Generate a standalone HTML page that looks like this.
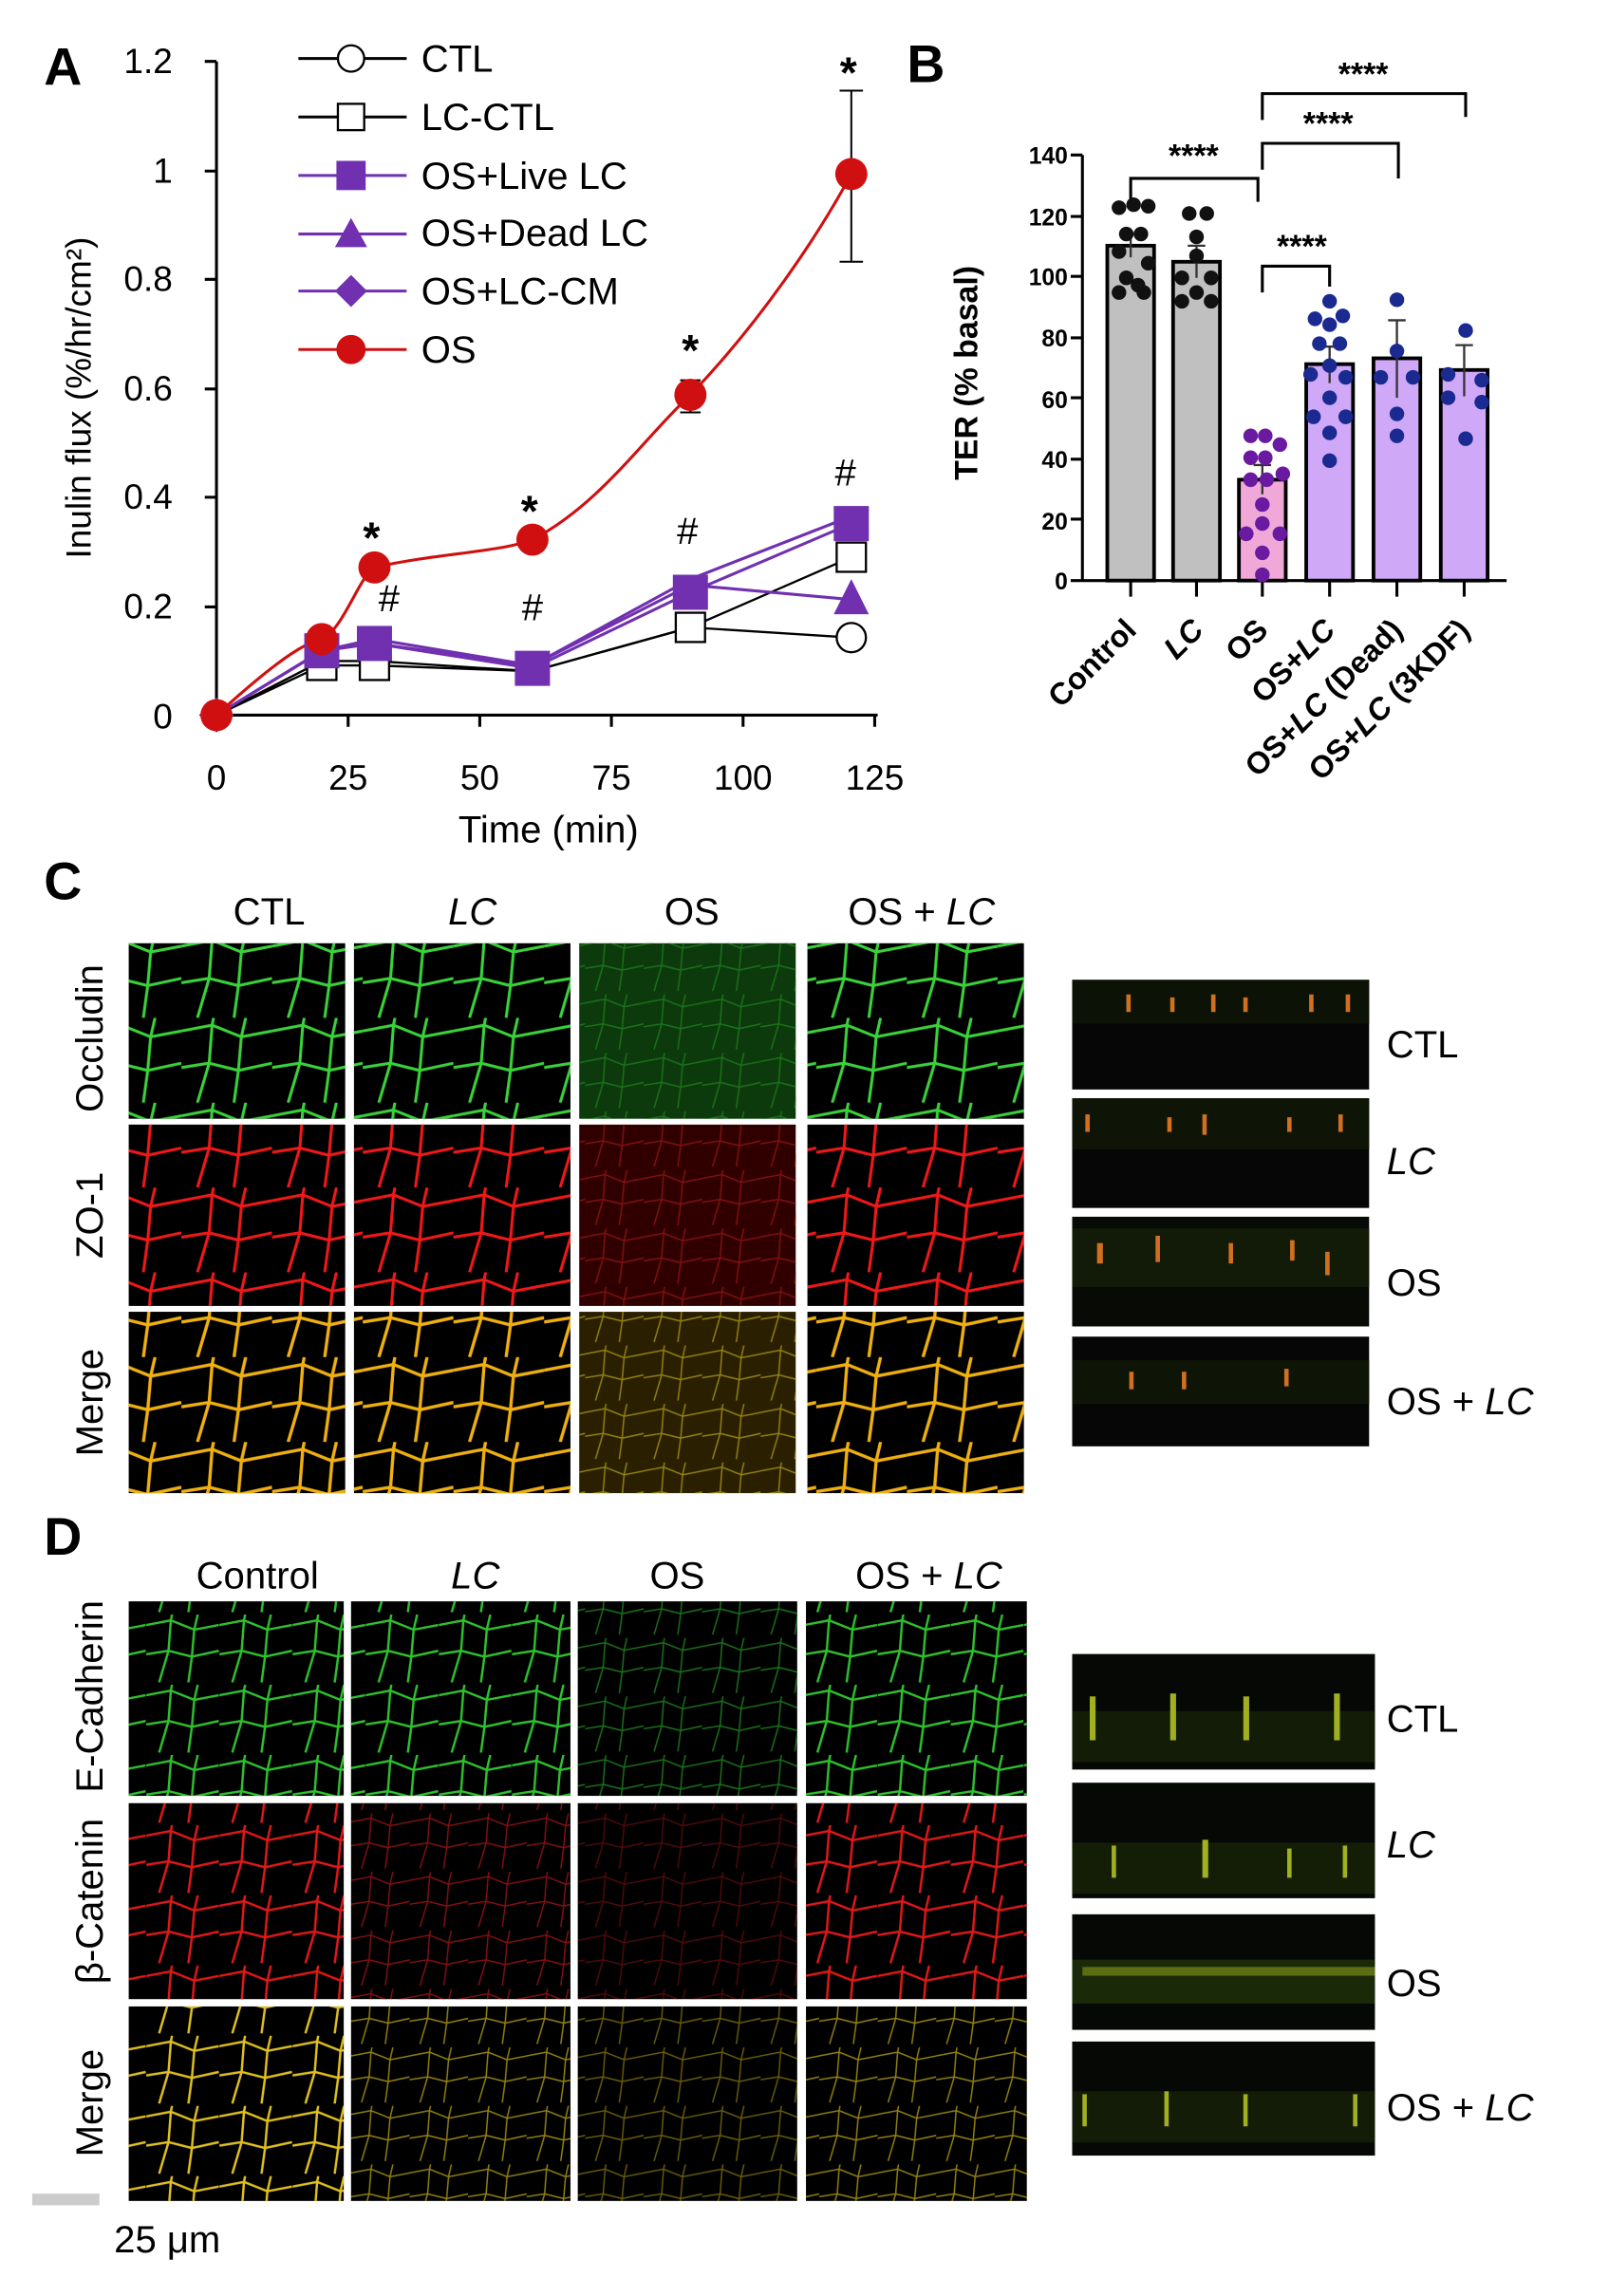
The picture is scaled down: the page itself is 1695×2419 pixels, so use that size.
<!DOCTYPE html>
<html><head><meta charset="utf-8"><style>html,body{margin:0;padding:0;background:#fff}svg{display:block}</style></head><body>
<svg width="1695" height="2419" viewBox="0 0 1100 1570" preserveAspectRatio="none" xmlns="http://www.w3.org/2000/svg" font-family="Liberation Sans, sans-serif">
<defs>
<path id="net" d="M0 9 L21 5 L41 13 L62 9 M21 5 L19 31 L0 34 M19 31 L39 36 L41 13 M39 36 L62 31 M39 36 L36 58 M19 31 L11 58 M21 5 L22 0 M41 13 L44 0"/>
<pattern id="pG" width="62" height="58" patternUnits="userSpaceOnUse"><use href="#net" fill="none" stroke="#3ad23a" stroke-width="2"/></pattern>
<pattern id="pR" width="62" height="58" patternUnits="userSpaceOnUse"><use href="#net" fill="none" stroke="#f01818" stroke-width="2"/></pattern>
<pattern id="pY" width="62" height="58" patternUnits="userSpaceOnUse"><use href="#net" fill="none" stroke="#f0b010" stroke-width="2.2"/></pattern>
<pattern id="pG2" width="50" height="48" patternUnits="userSpaceOnUse"><use href="#net" transform="scale(0.8)" fill="none" stroke="#2ec02e" stroke-width="2"/></pattern>
<pattern id="pR2" width="50" height="48" patternUnits="userSpaceOnUse"><use href="#net" transform="scale(0.8)" fill="none" stroke="#e01818" stroke-width="2"/></pattern>
<pattern id="pY2" width="50" height="48" patternUnits="userSpaceOnUse"><use href="#net" transform="scale(0.8)" fill="none" stroke="#e0c020" stroke-width="2"/></pattern>
<pattern id="pGd" width="40" height="40" patternUnits="userSpaceOnUse"><use href="#net" transform="scale(0.65)" fill="none" stroke="#1a701a" stroke-width="1.5"/></pattern>
<pattern id="pRd" width="40" height="40" patternUnits="userSpaceOnUse"><use href="#net" transform="scale(0.65)" fill="none" stroke="#801010" stroke-width="1.5"/></pattern>
<pattern id="pYd" width="40" height="40" patternUnits="userSpaceOnUse"><use href="#net" transform="scale(0.65)" fill="none" stroke="#908010" stroke-width="1.5"/></pattern>
</defs>

<!-- Panel A -->
<text x="30" y="58" font-size="36" font-weight="bold">A</text>
<g font-size="24" text-anchor="end">
<text x="118" y="50">1.2</text><text x="118" y="125">1</text><text x="118" y="199">0.8</text><text x="118" y="274">0.6</text><text x="118" y="348">0.4</text><text x="118" y="423">0.2</text><text x="118" y="498">0</text>
</g>
<g stroke="#000" stroke-width="2" fill="none">
<path d="M148 42 V489 H600"/>
<path d="M140 42H148M140 117H148M140 191H148M140 266H148M140 340H148M140 415H148M140 489H148"/>
<path d="M148 489V497M238 489V497M328 489V497M418 489V497M508 489V497M598 489V497"/>
</g>
<g font-size="24" text-anchor="middle">
<text x="148" y="540">0</text><text x="238" y="540">25</text><text x="328" y="540">50</text><text x="418" y="540">75</text><text x="508" y="540">100</text><text x="598" y="540">125</text>
<text x="375" y="576" font-size="26">Time (min)</text>
</g>
<text transform="translate(62 272) rotate(-90)" font-size="24" text-anchor="middle">Inulin flux (%/hr/cm²)</text>
<polyline points="148,489 220,452 256,452 364,459 472,429 582,436" fill="none" stroke="#000" stroke-width="1.5"/>
<polyline points="148,489 220,455 256,455 364,459 472,429 582,381" fill="none" stroke="#000" stroke-width="1.5"/>
<polyline points="148,489 220,445 256,440 364,457 472,405 582,358" fill="none" stroke="#7030b0" stroke-width="2"/>
<polyline points="148,489 220,445 256,437 364,455 472,400 582,410" fill="none" stroke="#7030b0" stroke-width="2"/>
<polyline points="148,489 220,445 256,440 364,455 472,396 582,353" fill="none" stroke="#7030b0" stroke-width="2"/>
<path d="M148 489 C180 460 205 440 220 437 C235 430 245 395 256 388 C300 378 340 378 364 369 C410 345 440 300 472 270 C520 220 560 160 582 119" fill="none" stroke="#d01010" stroke-width="2"/>
<path d="M582 62V179M574 62H590M574 179H590M472 260V282M465 260H479M465 282H479" stroke="#000" stroke-width="1.3"/>
<g fill="#fff" stroke="#000" stroke-width="1.5">
<circle cx="582" cy="436" r="10"/><rect x="572" y="371" width="20" height="20"/><rect x="462" y="419" width="20" height="20"/>
<rect x="210" y="445" width="20" height="20"/><rect x="246" y="445" width="20" height="20"/>
</g>
<g fill="#7030b0">
<rect x="244" y="428" width="24" height="24"/><rect x="352" y="445" width="24" height="24"/><rect x="460" y="393" width="24" height="24"/><rect x="570" y="346" width="24" height="24"/>
<path d="M582 396 L594 420 L570 420Z"/><rect x="208" y="433" width="24" height="24"/><path d="M148 477 L160 489 L148 501 L136 489Z"/>
</g>
<g fill="#d01010"><circle cx="148" cy="489" r="11"/><circle cx="220" cy="437" r="11"/><circle cx="256" cy="388" r="11"/><circle cx="364" cy="369" r="11"/><circle cx="472" cy="270" r="11"/><circle cx="582" cy="119" r="11"/></g>
<g font-size="30" font-weight="bold" text-anchor="middle">
<text x="580" y="60">*</text><text x="472" y="250">*</text><text x="362" y="360">*</text><text x="254" y="378">*</text>
<text x="578" y="332" font-size="26" font-weight="normal">#</text><text x="470" y="372" font-size="26" font-weight="normal">#</text><text x="364" y="424" font-size="26" font-weight="normal">#</text><text x="266" y="418" font-size="26" font-weight="normal">#</text>
</g>
<g stroke-width="2" fill="none">
<path d="M204 40H278M204 80H278" stroke="#000"/>
<path d="M204 120H278M204 160H278M204 199H278" stroke="#7030b0"/>
<path d="M204 239H278" stroke="#d01010"/>
</g>
<circle cx="240" cy="40" r="9" fill="#fff" stroke="#000" stroke-width="1.5"/>
<rect x="231" y="71" width="18" height="18" fill="#fff" stroke="#000" stroke-width="1.5"/>
<rect x="230" y="110" width="20" height="20" fill="#7030b0"/>
<path d="M240 149 L251 169 L229 169Z" fill="#7030b0"/>
<path d="M240 188 L251 199 L240 210 L229 199Z" fill="#7030b0"/>
<circle cx="240" cy="239" r="10" fill="#d01010"/>
<g font-size="26"><text x="288" y="49">CTL</text><text x="288" y="89">LC-CTL</text><text x="288" y="129">OS+Live LC</text><text x="288" y="168">OS+Dead LC</text><text x="288" y="208">OS+LC-CM</text><text x="288" y="248">OS</text></g>

<!-- Panel B -->
<text x="620" y="56" font-size="36" font-weight="bold">B</text>
<g font-size="16" font-weight="bold" text-anchor="end">
<text x="730" y="112">140</text><text x="730" y="154">120</text><text x="730" y="195">100</text><text x="730" y="237">80</text><text x="730" y="279">60</text><text x="730" y="320">40</text><text x="730" y="362">20</text><text x="730" y="403">0</text>
</g>
<text transform="translate(668 255) rotate(-90)" font-size="22" font-weight="bold" text-anchor="middle">TER (% basal)</text>
<g stroke="#000" stroke-width="2.5">
<rect x="757" y="168" width="32" height="229" fill="#c0c0c0"/>
<rect x="802" y="179" width="32" height="218" fill="#c0c0c0"/>
<rect x="847" y="328" width="32" height="69" fill="#f0a8d8"/>
<rect x="893" y="249" width="32" height="148" fill="#d0a8f8"/>
<rect x="939" y="245" width="32" height="152" fill="#d0a8f8"/>
<rect x="985" y="253" width="32" height="144" fill="#d0a8f8"/>
</g>
<g stroke="#333" stroke-width="1.5">
<path d="M773 160V176M767 160H779M818 168V190M812 168H824M863 318V338M857 318H869M909 237V262M903 237H915M955 219V272M949 219H961M1001 236V271M995 236H1007"/>
</g>
<g stroke="#000" stroke-width="2" fill="none">
<path d="M740 106V397H1030M732 106H740M732 148H740M732 189H740M732 231H740M732 272H740M732 314H740M732 355H740M732 397H740"/>
<path d="M773 397V408M818 397V408M863 397V408M909 397V408M955 397V408M1001 397V408"/>
<path d="M773 140V122H860V138M863 82V64H1002V80M863 116V98H956V122M863 200V182H909V196"/>
</g>
<g font-size="22" font-weight="bold" text-anchor="middle"><text x="816" y="114">****</text><text x="932" y="58">****</text><text x="908" y="92">****</text><text x="890" y="176">****</text></g>
<g fill="#111">
<circle cx="765" cy="142" r="5"/><circle cx="775" cy="140" r="5"/><circle cx="785" cy="141" r="5"/><circle cx="770" cy="160" r="5"/><circle cx="780" cy="160" r="5"/><circle cx="765" cy="172" r="5"/><circle cx="785" cy="180" r="5"/><circle cx="770" cy="190" r="5"/><circle cx="778" cy="195" r="5"/><circle cx="765" cy="200" r="5"/><circle cx="782" cy="200" r="5"/>
<circle cx="813" cy="146" r="5"/><circle cx="825" cy="146" r="5"/><circle cx="818" cy="162" r="5"/><circle cx="818" cy="175" r="5"/><circle cx="808" cy="190" r="5"/><circle cx="828" cy="190" r="5"/><circle cx="818" cy="200" r="5"/><circle cx="808" cy="206" r="5"/><circle cx="828" cy="206" r="5"/>
</g>
<g fill="#6a1aa0"><circle cx="855" cy="298" r="5"/><circle cx="865" cy="298" r="5"/><circle cx="875" cy="304" r="5"/><circle cx="855" cy="313" r="5"/><circle cx="865" cy="313" r="5"/><circle cx="855" cy="328" r="5"/><circle cx="866" cy="328" r="5"/><circle cx="877" cy="324" r="5"/><circle cx="863" cy="345" r="5"/><circle cx="863" cy="358" r="5"/><circle cx="852" cy="365" r="5"/><circle cx="875" cy="365" r="5"/><circle cx="863" cy="378" r="5"/><circle cx="863" cy="393" r="5"/></g>
<g fill="#1a2a90"><circle cx="909" cy="206" r="5"/><circle cx="899" cy="218" r="5"/><circle cx="918" cy="216" r="5"/><circle cx="909" cy="222" r="5"/><circle cx="902" cy="235" r="5"/><circle cx="916" cy="235" r="5"/><circle cx="909" cy="250" r="5"/><circle cx="896" cy="256" r="5"/><circle cx="920" cy="258" r="5"/><circle cx="909" cy="272" r="5"/><circle cx="898" cy="285" r="5"/><circle cx="920" cy="285" r="5"/><circle cx="909" cy="296" r="5"/><circle cx="909" cy="315" r="5"/>
<circle cx="955" cy="205" r="5"/><circle cx="955" cy="240" r="5"/><circle cx="944" cy="258" r="5"/><circle cx="966" cy="258" r="5"/><circle cx="955" cy="283" r="5"/><circle cx="955" cy="298" r="5"/>
<circle cx="1002" cy="226" r="5"/><circle cx="990" cy="256" r="5"/><circle cx="1013" cy="260" r="5"/><circle cx="990" cy="272" r="5"/><circle cx="1013" cy="275" r="5"/><circle cx="1002" cy="300" r="5"/></g>
<g font-size="21" font-weight="bold" text-anchor="end">
<text transform="translate(778 432) rotate(-45)">Control</text>
<text transform="translate(824 432) rotate(-45)" font-style="italic">LC</text>
<text transform="translate(868 432) rotate(-45)">OS</text>
<text transform="translate(914 432) rotate(-45)">OS+<tspan font-style="italic">LC</tspan></text>
<text transform="translate(960 432) rotate(-45)">OS+<tspan font-style="italic">LC</tspan> (Dead)</text>
<text transform="translate(1006 432) rotate(-45)">OS+<tspan font-style="italic">LC</tspan> (3KDF)</text>
</g>

<!-- Panel C -->
<text x="30" y="615" font-size="36" font-weight="bold">C</text>
<g font-size="26" text-anchor="middle"><text x="184" y="632">CTL</text><text x="323" y="632" font-style="italic">LC</text><text x="473" y="632">OS</text><text x="630" y="632">OS + <tspan font-style="italic">LC</tspan></text></g>
<g font-size="26" text-anchor="middle">
<text transform="translate(70 710) rotate(-90)">Occludin</text>
<text transform="translate(70 831) rotate(-90)">ZO-1</text>
<text transform="translate(70 959) rotate(-90)">Merge</text>
</g>
<g>
<rect x="88" y="645" width="148" height="120" fill="#000"/><rect x="88" y="645" width="148" height="120" fill="url(#pG)"/>
<rect x="242" y="645" width="148" height="120" fill="#000"/><rect x="242" y="645" width="148" height="120" fill="url(#pG)"/>
<rect x="396" y="645" width="148" height="120" fill="#0c3a0c"/><rect x="396" y="645" width="148" height="120" fill="url(#pGd)"/>
<rect x="552" y="645" width="148" height="120" fill="#000"/><rect x="552" y="645" width="148" height="120" fill="url(#pG)"/>
<rect x="88" y="769" width="148" height="124" fill="#000"/><rect x="88" y="769" width="148" height="124" fill="url(#pR)"/>
<rect x="242" y="769" width="148" height="124" fill="#000"/><rect x="242" y="769" width="148" height="124" fill="url(#pR)"/>
<rect x="396" y="769" width="148" height="124" fill="#300000"/><rect x="396" y="769" width="148" height="124" fill="url(#pRd)"/>
<rect x="552" y="769" width="148" height="124" fill="#000"/><rect x="552" y="769" width="148" height="124" fill="url(#pR)"/>
<rect x="88" y="897" width="148" height="124" fill="#000"/><rect x="88" y="897" width="148" height="124" fill="url(#pY)"/>
<rect x="242" y="897" width="148" height="124" fill="#000"/><rect x="242" y="897" width="148" height="124" fill="url(#pY)"/>
<rect x="396" y="897" width="148" height="124" fill="#2a2000"/><rect x="396" y="897" width="148" height="124" fill="url(#pYd)"/>
<rect x="552" y="897" width="148" height="124" fill="#000"/><rect x="552" y="897" width="148" height="124" fill="url(#pY)"/>
</g>
<g>
<rect x="733" y="670" width="203" height="75" fill="#050605"/><rect x="733" y="670" width="203" height="30" fill="#0c1206"/>
<rect x="733" y="751" width="203" height="75" fill="#050605"/><rect x="733" y="751" width="203" height="35" fill="#0e1406"/>
<rect x="733" y="832" width="203" height="75" fill="#070a05"/><rect x="733" y="840" width="203" height="40" fill="#121a08"/>
<rect x="733" y="914" width="203" height="75" fill="#050605"/><rect x="733" y="930" width="203" height="30" fill="#0e1406"/>
</g>
<g fill="#d07020">
<rect x="770" y="680" width="3" height="12"/><rect x="800" y="682" width="3" height="10"/><rect x="828" y="680" width="3" height="12"/><rect x="850" y="682" width="3" height="10"/><rect x="895" y="680" width="3" height="12"/><rect x="920" y="680" width="3" height="12"/>
<rect x="742" y="762" width="3" height="12"/><rect x="798" y="764" width="3" height="10"/><rect x="822" y="762" width="3" height="14"/><rect x="880" y="764" width="3" height="10"/><rect x="915" y="762" width="3" height="12"/>
<rect x="750" y="850" width="4" height="14"/><rect x="790" y="845" width="3" height="18"/><rect x="840" y="850" width="3" height="14"/><rect x="882" y="848" width="3" height="14"/><rect x="906" y="856" width="3" height="16"/>
<rect x="772" y="938" width="3" height="12"/><rect x="808" y="938" width="3" height="12"/><rect x="878" y="936" width="3" height="12"/>
</g>
<g font-size="26"><text x="948" y="723">CTL</text><text x="948" y="803" font-style="italic">LC</text><text x="948" y="886">OS</text><text x="948" y="967">OS + <tspan font-style="italic">LC</tspan></text></g>

<!-- Panel D -->
<text x="30" y="1063" font-size="36" font-weight="bold">D</text>
<g font-size="26" text-anchor="middle"><text x="176" y="1086">Control</text><text x="325" y="1086" font-style="italic">LC</text><text x="463" y="1086">OS</text><text x="635" y="1086">OS + <tspan font-style="italic">LC</tspan></text></g>
<g font-size="26" text-anchor="middle">
<text transform="translate(70 1160) rotate(-90)">E-Cadherin</text>
<text transform="translate(70 1300) rotate(-90)">β-Catenin</text>
<text transform="translate(70 1438) rotate(-90)">Merge</text>
</g>
<g>
<rect x="88" y="1095" width="147" height="133" fill="#000"/><rect x="88" y="1095" width="147" height="133" fill="url(#pG2)"/>
<rect x="240" y="1095" width="150" height="133" fill="#000"/><rect x="240" y="1095" width="150" height="133" fill="url(#pG2)"/>
<rect x="395" y="1095" width="150" height="133" fill="#000"/><rect x="395" y="1095" width="150" height="133" fill="url(#pGd)"/>
<rect x="551" y="1095" width="151" height="133" fill="#000"/><rect x="551" y="1095" width="151" height="133" fill="url(#pG2)"/>
<rect x="88" y="1233" width="147" height="134" fill="#000"/><rect x="88" y="1233" width="147" height="134" fill="url(#pR2)"/>
<rect x="240" y="1233" width="150" height="134" fill="#000"/><rect x="240" y="1233" width="150" height="134" fill="url(#pRd)"/>
<rect x="395" y="1233" width="150" height="134" fill="#000"/><rect x="395" y="1233" width="150" height="134" fill="url(#pRd)" opacity="0.6"/>
<rect x="551" y="1233" width="151" height="134" fill="#000"/><rect x="551" y="1233" width="151" height="134" fill="url(#pR2)"/>
<rect x="88" y="1372" width="147" height="133" fill="#000"/><rect x="88" y="1372" width="147" height="133" fill="url(#pY2)"/>
<rect x="240" y="1372" width="150" height="133" fill="#000"/><rect x="240" y="1372" width="150" height="133" fill="url(#pYd)"/>
<rect x="395" y="1372" width="150" height="133" fill="#000"/><rect x="395" y="1372" width="150" height="133" fill="url(#pYd)" opacity="0.7"/>
<rect x="551" y="1372" width="151" height="133" fill="#000"/><rect x="551" y="1372" width="151" height="133" fill="url(#pYd)"/>
</g>
<g>
<rect x="733" y="1131" width="207" height="79" fill="#050805"/><rect x="733" y="1170" width="207" height="35" fill="#121c06"/>
<rect x="733" y="1219" width="207" height="79" fill="#050805"/><rect x="733" y="1260" width="207" height="35" fill="#141e06"/>
<rect x="733" y="1309" width="207" height="79" fill="#050805"/><rect x="733" y="1340" width="207" height="30" fill="#1a2a08"/>
<rect x="733" y="1396" width="207" height="78" fill="#050805"/><rect x="733" y="1430" width="207" height="35" fill="#121c06"/>
</g>
<g fill="#a0b020">
<rect x="745" y="1160" width="4" height="30"/><rect x="800" y="1158" width="4" height="32"/><rect x="850" y="1160" width="4" height="30"/><rect x="912" y="1158" width="4" height="32"/>
<rect x="760" y="1262" width="3" height="22"/><rect x="822" y="1258" width="4" height="26"/><rect x="880" y="1264" width="3" height="20"/><rect x="918" y="1262" width="3" height="22"/>
<rect x="740" y="1345" width="200" height="6" opacity="0.5"/>
<rect x="740" y="1432" width="3" height="22"/><rect x="796" y="1430" width="3" height="24"/><rect x="850" y="1432" width="3" height="22"/><rect x="925" y="1432" width="3" height="22"/>
</g>
<g font-size="26"><text x="948" y="1184">CTL</text><text x="948" y="1270" font-style="italic">LC</text><text x="948" y="1365">OS</text><text x="948" y="1450">OS + <tspan font-style="italic">LC</tspan></text></g>
<rect x="22" y="1500" width="46" height="8" fill="#ccc"/>
<text x="78" y="1540" font-size="26">25 μm</text>
</svg>
</body></html>
